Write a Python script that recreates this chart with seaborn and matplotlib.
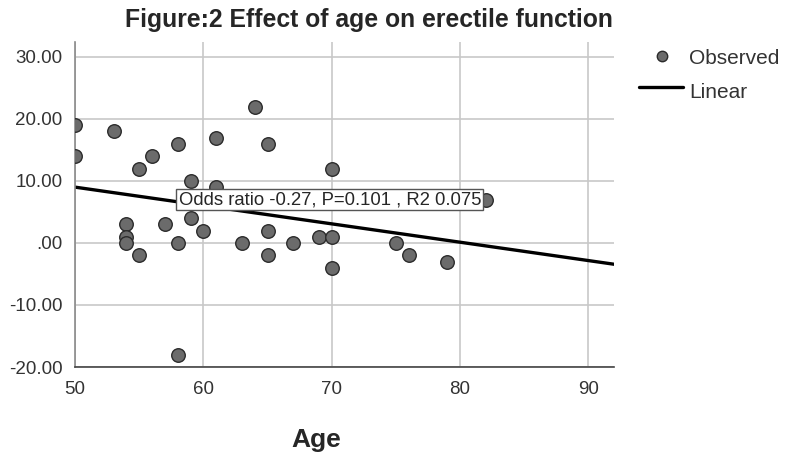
import pandas as pd
import seaborn as sns
import matplotlib.pyplot as plt
from matplotlib.lines import Line2D
from matplotlib.ticker import FuncFormatter


# -----------------------------
# DATA
# -----------------------------
age = [50, 50, 53, 54, 54, 54, 55, 55, 56, 57, 58, 58, 58, 59, 59, 60,
       61, 61, 63, 64, 65, 65, 65, 67, 69, 70, 70, 70, 75, 76, 79, 82]
score = [19, 14, 18, 3, 1, 0, 12, -2, 14, 3, 16, 0, -18, 10, 4, 2,
         17, 9, 0, 22, 16, 2, -2, 0, 1, 12, 1, -4, 0, -2, -3, 7]

x_ticks = [50, 60, 70, 80, 90]
y_ticks = [-20, -10, 0, 10, 20, 30]
fit_label = "Odds ratio -0.27, P=0.101 , R2 0.075"
legend_labels = ["Observed", "Linear"]

df = pd.DataFrame({"Age": age, "Score": score})

W, H = 788, 459


def fx(px):
    return px / W


def fy(py):
    return 1 - py / H


# -----------------------------
# STYLE
# -----------------------------
sns.set_style("white")
plt.rcParams["font.family"] = ["Liberation Sans", "DejaVu Sans"]


# -----------------------------
# PLOT
# -----------------------------
fig = plt.figure(figsize=(7.88, 4.59), dpi=100)
ax = fig.add_axes([fx(75), fy(367), (614 - 75) / W, (367 - 42) / H])

ax.set_xlim(50, 92)
ax.set_ylim(-20, 32.4)

sns.regplot(data=df, x="Age", y="Score", scatter=False, ci=None,
            truncate=False, color="black", line_kws={"linewidth": 2.4},
            ax=ax)
sns.scatterplot(data=df, x="Age", y="Score", s=95, color="#6b6b6b",
                edgecolor="#2b2b2b", linewidth=1.0, zorder=3, ax=ax)

ax.set_xlim(50, 92)
ax.set_ylim(-20, 32.4)
ax.set_xticks(x_ticks)
ax.set_yticks(y_ticks)
ax.yaxis.set_major_formatter(
    FuncFormatter(lambda v, _: ".00" if v == 0 else f"{v:.2f}"))
ax.tick_params(length=0, labelsize=13.5, labelcolor="#333333")
ax.tick_params(axis="y", pad=9)
ax.tick_params(axis="x", pad=10)

ax.grid(True, color="#c8c8c8", linewidth=1.2)
ax.set_axisbelow(True)
for s in ["top", "right"]:
    ax.spines[s].set_visible(False)
ax.spines["left"].set_color("#8a8a8a")
ax.spines["bottom"].set_color("#444444")
ax.spines["left"].set_linewidth(1.2)
ax.spines["bottom"].set_linewidth(1.2)

ax.set_ylabel("")
ax.set_xlabel("")
fig.text(fx(316), fy(440), "Age", fontsize=19, fontweight="bold",
         ha="center", va="center")

# fit line label (sits next to the last observation like SPSS does)
ax.text(age[-1] - 0.35, score[-1], fit_label, fontsize=13.3, ha="right",
        va="center", zorder=4,
        bbox=dict(boxstyle="square,pad=0.12", facecolor="white",
                  edgecolor="#555555", linewidth=1.0))

# -----------------------------
# TITLE
# -----------------------------
fig.text(fx(369), fy(20), "Figure:2 Effect of age on erectile function",
         fontsize=17.8, fontweight="bold", ha="center", va="center")

# -----------------------------
# LEGEND (SPSS style, drawn by hand)
# -----------------------------
fig.add_artist(Line2D([fx(662)], [fy(56)], marker="o", linestyle="none",
                      markersize=7.5, markerfacecolor="#6b6b6b",
                      markeredgecolor="#2b2b2b"))
fig.add_artist(Line2D([fx(639), fx(683)], [fy(87), fy(87)],
                      color="black", linewidth=2.4))
fig.text(fx(689), fy(59), legend_labels[0], fontsize=15, color="#333333",
         ha="left", va="center")
fig.text(fx(689), fy(92), legend_labels[1], fontsize=15, color="#333333",
         ha="left", va="center")

fig.savefig("out.png", dpi=100)
